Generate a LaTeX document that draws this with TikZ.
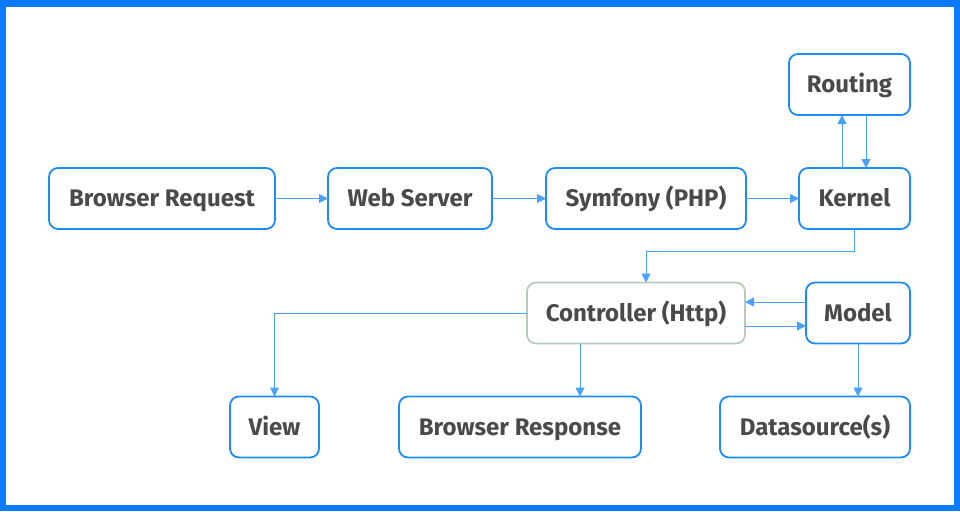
\documentclass[tikz,border=0pt]{standalone}
\usepackage{fontspec}
\setmainfont{Fira Sans}
\usepackage{tikz}
\usetikzlibrary{positioning, arrows.meta}
\definecolor{framecol}{HTML}{0A7BFF}
\definecolor{boxcol}{HTML}{1E8BFA}
\definecolor{linecol}{HTML}{4AA2FF}
\definecolor{ctrlcol}{HTML}{B8CBBB}
\definecolor{textcol}{HTML}{4A4A4A}
\tikzset{
  process/.style={
    rectangle,
    rounded corners=9pt,
    minimum height=61pt,
    inner sep=0pt,
    outer sep=0pt,
    text height=16.5pt,
    text depth=0pt,
    align=center,
    line width=1.8pt,
    draw=boxcol,
    text=textcol,
    font=\fontsize{24}{28}\selectfont\bfseries
    },
  ctrlbox/.style={process, draw=ctrlcol},
  arrow/.style={line width=1pt, draw=linecol, -{Triangle[length=9pt, width=9pt]}},
}

\begin{document}
\begin{tikzpicture}[x=1pt, y=-1pt]
\fill[framecol] (0,0) rectangle (960,511);
\fill[white] (6,7) rectangle (954,505);

\node (req) [process, minimum width=226pt] at (162,198.5) {Browser Request};
\node (web) [process, minimum width=164pt, right=53pt of req] {Web Server};
\node (sym) [process, minimum width=200pt, right=54pt of web] {Symfony (PHP)};
\node (kern) [process, minimum width=111pt, right=53pt of sym] {Kernel};
\node (rout) [process, minimum width=121pt, above=53pt of kern.north east, anchor=south east] {Routing};
\node (ctrl) [ctrlbox, minimum width=218pt] at (636,313) {Controller (Http)};
\node (model) [process, minimum width=104pt, right=61pt of ctrl] {Model};
\node (view) [process, minimum width=89pt] at (274.5,427) {View};
\node (resp) [process, minimum width=242pt] at (520,427) {Browser Response};
\node (data) [process, minimum width=190pt] at (815,427) {Datasource(s)};
\coordinate (bend) at (646,251);

\draw [arrow] (req) -- (web);
\draw [arrow] (web) -- (sym);
\draw [arrow] (sym) -- (kern);
\draw [arrow] ([xshift=-12.5pt]kern.north) -- ([xshift=-12.5pt]kern.north |- rout.south);
\draw [arrow] ([xshift=11.5pt]kern.north |- rout.south) -- ([xshift=11.5pt]kern.north);
\draw [arrow] (kern.south) |- (bend) -- (bend |- ctrl.north);
\draw [arrow] ([yshift=11pt]model.west) -- ([yshift=11pt]ctrl.east);
\draw [arrow] ([yshift=-13pt]ctrl.east) -- ([yshift=-13pt]model.west);
\draw [arrow] (ctrl.west) -| (view.north);
\draw [arrow] ([xshift=-56pt]ctrl.south) -- ([xshift=-56pt]ctrl.south |- resp.north);
\draw [arrow] (model.south) -- (model.south |- data.north);

\end{tikzpicture}
\end{document}
